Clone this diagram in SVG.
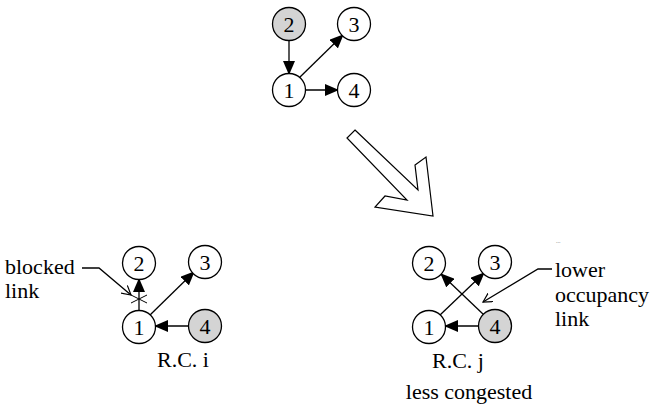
<svg xmlns="http://www.w3.org/2000/svg" width="651" height="409" viewBox="0 0 651 409">
<style>
.n{fill:#fff;stroke:#000;stroke-width:1.3}
.s{fill:#d4d4d4;stroke:#000;stroke-width:1.3}
text{font-family:'Liberation Serif','Times New Roman',serif;font-size:22px;fill:#000}
.t{text-anchor:middle}
.e{stroke:#000;stroke-width:1.3;fill:none}
</style>
<defs>
<marker id="ah" markerUnits="userSpaceOnUse" markerWidth="14" markerHeight="12" refX="13" refY="6" orient="auto">
<path d="M0,0 L14,6 L0,12 Z" fill="#000"/>
</marker>
<marker id="oh" markerUnits="userSpaceOnUse" markerWidth="10" markerHeight="10" refX="9" refY="5" orient="auto">
<path d="M0,0 L9,5 L0,10" fill="none" stroke="#000" stroke-width="1.2"/>
</marker>
</defs>
<g id="connectors">
<line class="e" x1="289" y1="40" x2="289" y2="74" marker-end="url(#ah)"/>
<line class="e" x1="299" y1="78" x2="343" y2="35" marker-end="url(#ah)"/>
<line class="e" x1="305" y1="90" x2="338" y2="90" marker-end="url(#ah)"/>
<line class="e" x1="139" y1="311" x2="139" y2="279" marker-end="url(#ah)"/>
<line class="e" x1="150" y1="315" x2="194" y2="272" marker-end="url(#ah)"/>
<line class="e" x1="189" y1="326" x2="155" y2="326" marker-end="url(#ah)"/>
<line class="e" x1="440" y1="315" x2="484" y2="273" marker-end="url(#ah)"/>
<line class="e" x1="484" y1="315" x2="441" y2="274" marker-end="url(#ah)"/>
<line class="e" x1="479" y1="326" x2="445" y2="326" stroke="#666" marker-end="url(#ah)"/>
</g>
<g id="transition-arrow">
<polygon points="355,130 418,190 415,165 426,157 433,216 375,207 385,196 407,200 347,138" fill="#fff" stroke="#000" stroke-width="1.2"/>
</g>
<g id="top-2"><circle class="s" cx="289" cy="24" r="16.5"/><text class="t" x="289" y="31.5">2</text></g>
<g id="top-3"><circle class="n" cx="354" cy="24" r="16.5"/><text class="t" x="354" y="31.5">3</text></g>
<g id="top-1"><circle class="n" cx="289" cy="90" r="16.5"/><text class="t" x="289" y="97.5">1</text></g>
<g id="top-4"><circle class="n" cx="354" cy="90" r="16.5"/><text class="t" x="354" y="97.5">4</text></g>
<g id="i-2"><circle class="n" cx="139" cy="263" r="16.5"/><text class="t" x="139" y="270.5">2</text></g>
<g id="i-3"><circle class="n" cx="205" cy="262" r="16.5"/><text class="t" x="205" y="269.5">3</text></g>
<g id="i-1"><circle class="n" cx="139" cy="327" r="16.5"/><text class="t" x="139" y="334.5">1</text></g>
<g id="i-4"><circle class="s" cx="205" cy="326" r="16.5"/><text class="t" x="205" y="333.5">4</text></g>
<g id="j-2"><circle class="n" cx="429" cy="263" r="16.5"/><text class="t" x="429" y="270.5">2</text></g>
<g id="j-3"><circle class="n" cx="495" cy="262" r="16.5"/><text class="t" x="495" y="269.5">3</text></g>
<g id="j-1"><circle class="n" cx="429" cy="327" r="16.5"/><text class="t" x="429" y="334.5">1</text></g>
<g id="j-4"><circle class="s" cx="495" cy="326" r="16.5"/><text class="t" x="495" y="333.5">4</text></g>
<g id="blocked-label">
<path d="M131,295 L147,303 M131,303 L147,295" stroke="#000" stroke-width="1" fill="none"/>
<text x="5" y="274">blocked</text>
<text x="5" y="298">link</text>
<path class="e" d="M82,268 L99,268 L131,295" stroke-width="1" marker-end="url(#oh)"/>
</g>
<g id="lower-label">
<text x="555" y="277">lower</text>
<text x="555" y="302">occupancy</text>
<text x="555" y="326">link</text>
<text x="556" y="243" style="font-size:6px;fill:#888">...</text>
<path class="e" d="M552,269 L538,269 L483,302" stroke-width="1" marker-end="url(#oh)"/>
</g>
<text class="t" x="183" y="367">R.C. i</text>
<text class="t" x="458" y="368">R.C. j</text>
<text class="t" x="469" y="399">less congested</text>
</svg>
